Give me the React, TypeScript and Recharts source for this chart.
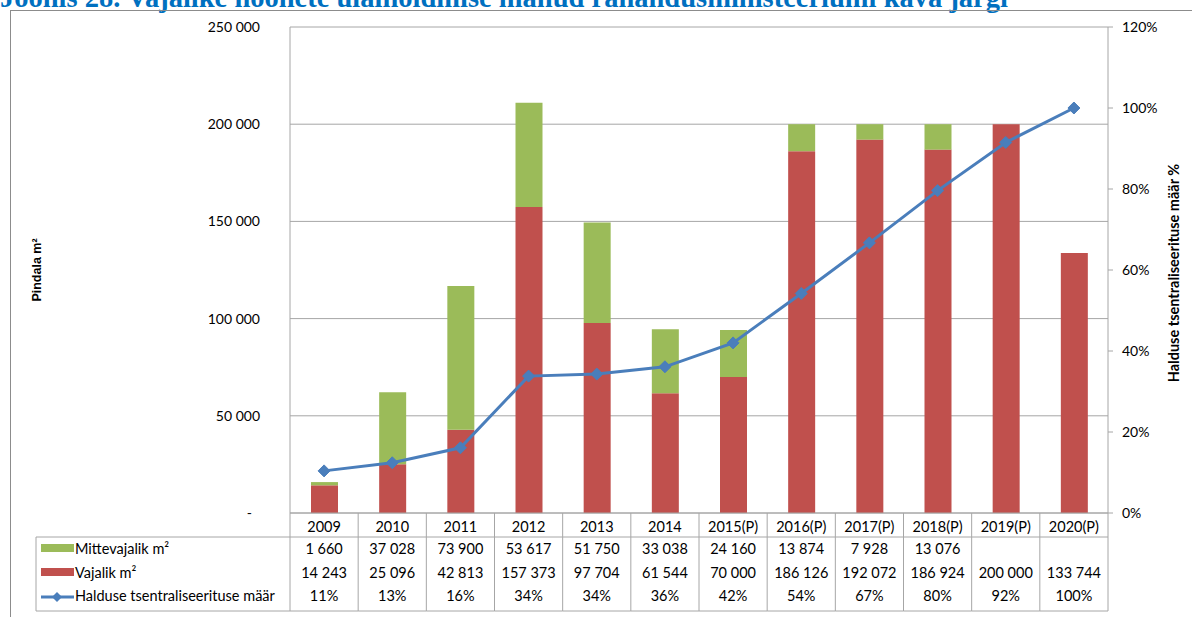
import React from 'react';
import { ComposedChart, Bar, Line, XAxis, YAxis, CartesianGrid } from 'recharts';

const categories = ['2009', '2010', '2011', '2012', '2013', '2014', '2015(P)', '2016(P)', '2017(P)', '2018(P)', '2019(P)', '2020(P)'];
const mittevajalik: (number | null)[] = [1660, 37028, 73900, 53617, 51750, 33038, 24160, 13874, 7928, 13076, null, null];
const vajalik = [14243, 25096, 42813, 157373, 97704, 61544, 70000, 186126, 192072, 186924, 200000, 133744];
const maar = [10.4, 12.4, 16.1, 33.8, 34.3, 36.1, 42.0, 54.2, 66.7, 79.6, 91.5, 100];
const maarLabels = ['11%', '13%', '16%', '34%', '34%', '36%', '42%', '54%', '67%', '80%', '92%', '100%'];
const leftTicks = [0, 50000, 100000, 150000, 200000, 250000];
const rightTicks = [0, 20, 40, 60, 80, 100, 120];

const seriesNames = ['Mittevajalik m²', 'Vajalik m²', 'Halduse tsentraliseerituse määr'];
const title = 'Joonis 28. Vajalike hoonete ülalhoidmise mahud rahandusministeeriumi kava järgi';

const data = categories.map((c, i) => ({
  cat: c,
  mittevajalik: mittevajalik[i],
  vajalik: vajalik[i],
  maar: maar[i],
}));

const W = 1192;
const H = 617;
const PLOT_LEFT = 290;
const RIGHT_AXIS_W = 84;
const PLOT_W = W - PLOT_LEFT - RIGHT_AXIS_W;
const COL_W = PLOT_W / categories.length;
const FONT = 'Lato, "Open Sans", sans-serif';
const GREEN = '#9BBB59';
const RED = '#C0504D';
const BLUE = '#4A7EBB';
const GRID = '#A6A6A6';
const TEXT = '#000000';
const TABLE_FS = 14.5;

const fmt = (n: number | null) =>
  n == null ? '' : String(n).replace(/\B(?=(\d{3})+(?!\d))/g, '\u00A0');

const Diamond = (props: any) => {
  const { cx, cy } = props;
  if (cx == null || cy == null) return null;
  const r = 6;
  return (
    <polygon
      points={`${cx},${cy - r} ${cx + r},${cy} ${cx},${cy + r} ${cx - r},${cy}`}
      fill={BLUE}
      stroke={BLUE}
    />
  );
};

const TableTick = (props: any) => {
  const { x, y, payload } = props;
  const i = categories.indexOf(payload.value);
  const l = x - COL_W / 2;
  const r = x + COL_W / 2;
  const last = i === categories.length - 1;
  return (
    <g fontFamily={FONT} fontSize={TABLE_FS} fill={TEXT}>
      <line x1={l} x2={l} y1={y} y2={y + 98} stroke={GRID} />
      {last && <line x1={r} x2={r} y1={y} y2={y + 98} stroke={GRID} />}
      <line x1={l} x2={r} y1={y + 24} y2={y + 24} stroke={GRID} />
      <line x1={l} x2={r} y1={y + 98} y2={y + 98} stroke={GRID} />
      <text x={x} y={y + 19} textAnchor="middle" fill={TEXT}>{payload.value}</text>
      <text x={x} y={y + 41} textAnchor="middle" fill={TEXT}>{fmt(mittevajalik[i])}</text>
      <text x={x} y={y + 65} textAnchor="middle" fill={TEXT}>{fmt(vajalik[i])}</text>
      <text x={x} y={y + 88} textAnchor="middle" fill={TEXT}>{maarLabels[i]}</text>
    </g>
  );
};

const LeftTick = (props: any) => {
  const { x, y, payload } = props;
  const v = payload.value;
  return (
    <text
      x={v === 0 ? x - 8 : x}
      y={y}
      dy={5}
      textAnchor="end"
      fontFamily={FONT}
      fontSize={14}
      fill={TEXT}
    >
      {v === 0 ? '-' : fmt(v)}
    </text>
  );
};

export default function App() {
  const tableTop = 537;
  const tableBottom = 611;
  const tableLeft = 36;
  return (
    <div style={{ position: 'absolute', left: 0, top: 0, width: W, height: H, background: '#fff', overflow: 'hidden' }}>
      <ComposedChart
        width={W}
        height={H}
        data={data}
        margin={{ top: 27, right: 0, bottom: 6, left: 0 }}
        barSize={27}
      >
        <CartesianGrid yAxisId="left" vertical={false} stroke={GRID} />
        <XAxis
          dataKey="cat"
          xAxisId={0}
          height={98}
          interval={0}
          tickLine={false}
          tickSize={0}
          tickMargin={0}
          axisLine={{ stroke: GRID }}
          tick={<TableTick />}
        />
        <YAxis
          yAxisId="left"
          width={PLOT_LEFT}
          domain={[0, 250000]}
          ticks={leftTicks}
          tickLine={false}
          tickSize={0}
          tickMargin={30}
          axisLine={{ stroke: GRID }}
          tick={<LeftTick />}
          interval={0}
        />
        <YAxis
          yAxisId="right"
          orientation="right"
          width={RIGHT_AXIS_W}
          domain={[0, 120]}
          ticks={rightTicks}
          tickSize={5}
          tickMargin={9}
          tickLine={{ stroke: GRID }}
          axisLine={{ stroke: GRID }}
          tickFormatter={(v: number) => `${v}%`}
          tick={{ fontFamily: FONT, fontSize: 14, fill: TEXT }}
          interval={0}
        />
        <Bar yAxisId="left" dataKey="vajalik" stackId="a" fill={RED} isAnimationActive={false} />
        <Bar yAxisId="left" dataKey="mittevajalik" stackId="a" fill={GREEN} isAnimationActive={false} />
        <Line
          yAxisId="right"
          dataKey="maar"
          stroke={BLUE}
          strokeWidth={3}
          dot={<Diamond />}
          activeDot={false}
          isAnimationActive={false}
        />
      </ComposedChart>
      <svg
        width={W}
        height={H}
        style={{ position: 'absolute', left: 0, top: 0, pointerEvents: 'none' }}
      >
        <text x={0} y={7} fontFamily='"Liberation Serif", serif' fontWeight="bold" fontSize={28.5} fill="#0070C0">
          {title}
        </text>
        <line x1={10} x2={W} y1={10.5} y2={10.5} stroke="#8c8c8c" />
        <line x1={10.5} x2={10.5} y1={10} y2={H} stroke="#8c8c8c" />
        <text
          transform={`translate(41, 270) rotate(-90)`}
          textAnchor="middle"
          fontFamily='"Liberation Sans", Arial, sans-serif'
          fontWeight="bold"
          fontSize={12.5}
          fill={TEXT}
        >
          Pindala m²
        </text>
        <text
          transform={`translate(1179, 273) rotate(-90)`}
          textAnchor="middle"
          fontFamily={FONT}
          fontWeight="bold"
          fontSize={14.5}
          fill={TEXT}
        >
          Halduse tsentraliseerituse määr %
        </text>
        <g fontFamily={FONT} fontSize={TABLE_FS} fill={TEXT}>
          <line x1={tableLeft} x2={PLOT_LEFT} y1={tableTop} y2={tableTop} stroke={GRID} />
          <line x1={tableLeft} x2={PLOT_LEFT} y1={tableBottom} y2={tableBottom} stroke={GRID} />
          <line x1={tableLeft} x2={tableLeft} y1={tableTop} y2={tableBottom} stroke={GRID} />
          <rect x={41} y={544} width={33} height={8} fill={GREEN} />
          <text x={75} y={554}>{seriesNames[0]}</text>
          <rect x={41} y={568} width={33} height={8} fill={RED} />
          <text x={75} y={578}>{seriesNames[1]}</text>
          <line x1={41} x2={74} y1={597} y2={597} stroke={BLUE} strokeWidth={3} />
          <polygon points="57,592 62,597 57,602 52,597" fill={BLUE} />
          <text x={75} y={601}>{seriesNames[2]}</text>
        </g>
      </svg>
    </div>
  );
}
